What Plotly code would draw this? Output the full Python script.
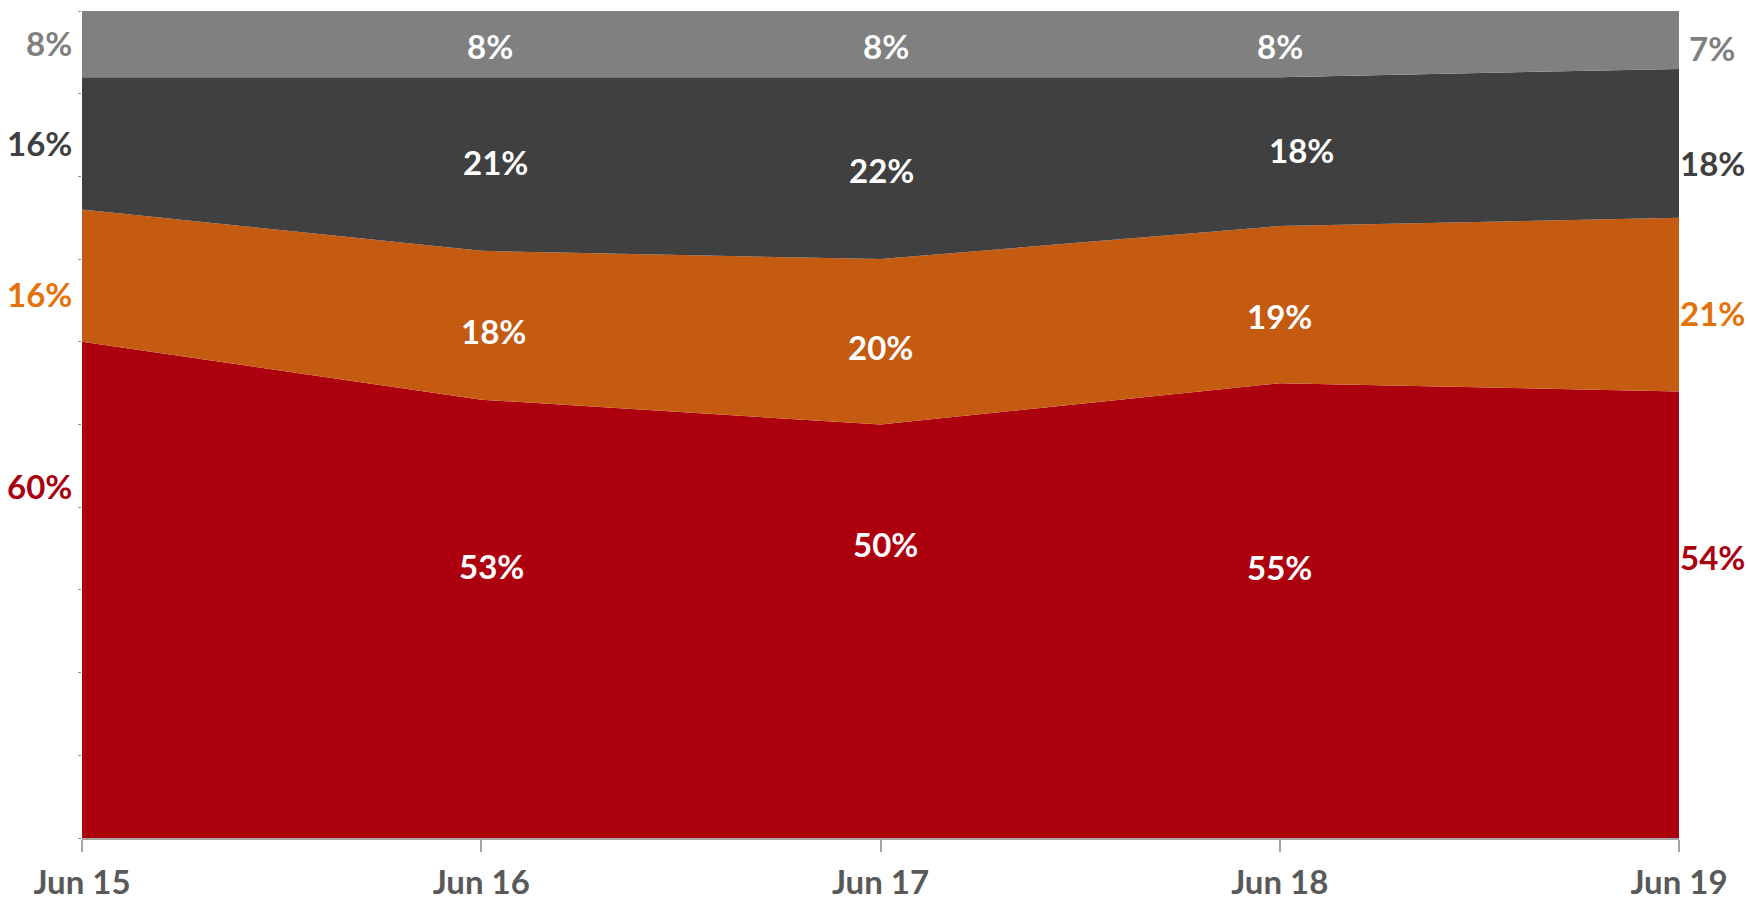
import plotly.graph_objects as go

categories = ["Jun 15", "Jun 16", "Jun 17", "Jun 18", "Jun 19"]
red_vals = [60, 53, 50, 55, 54]
orange_vals = [16, 18, 20, 19, 21]
dark_vals = [16, 21, 22, 18, 18]
grey_vals = [8, 8, 8, 8, 7]

series = [
    ("red", red_vals, "#AD000E", "#A8000F"),
    ("orange", orange_vals, "#C55A11", "#E3720A"),
    ("dark", dark_vals, "#404040", "#404040"),
    ("grey", grey_vals, "#808080", "#808080"),
]

# label placement: fraction of the band height (layout only)
label_frac = {
    "red": [0.71, 0.62, 0.71, 0.595, 0.63],
    "orange": [0.36, 0.46, 0.47, 0.43, 0.45],
    "dark": [0.5, 0.51, 0.49, 0.51, 0.37],
    "grey": [0.52, 0.47, 0.47, 0.47, 0.36],
}
# horizontal pixel offsets of labels (layout only)
label_dx = {
    "red": [-8, 10, 5, 0, 33],
    "orange": [-8, 12, 0, 0, 33],
    "dark": [-8, 14, 1, 22, 33],
    "grey": [-8, 9, 5, 0, 33],
}

FONT = "Lato"
FS = 33

fig = go.Figure()
for name, vals, fill, _ in series:
    fig.add_trace(go.Scatter(
        x=categories, y=vals, name=name, mode="lines",
        stackgroup="one", line=dict(width=0, color=fill),
        fillcolor=fill, hoverinfo="skip", showlegend=False,
    ))

annotations = []
base = [0] * len(categories)
n = len(categories)
for name, vals, fill, txtcol in series:
    for i, v in enumerate(vals):
        y = base[i] + v * label_frac[name][i]
        ann = dict(x=categories[i], y=y, xref="x", yref="y", text=f"{v}%",
                   showarrow=False, xshift=label_dx[name][i],
                   font=dict(family=FONT, size=FS, weight="bold"))
        if i == 0:
            ann.update(xanchor="right")
            ann["font"]["color"] = txtcol
        elif i == n - 1:
            ann.update(xanchor="center")
            ann["font"]["color"] = txtcol
        else:
            ann.update(xanchor="center")
            ann["font"]["color"] = "white"
        annotations.append(ann)
    base = [b + v for b, v in zip(base, vals)]

fig.update_layout(
    width=1748, height=904,
    margin=dict(l=82, r=69, t=11, b=66, autoexpand=False),
    paper_bgcolor="white", plot_bgcolor="white",
    annotations=annotations,
    font=dict(family=FONT),
)
fig.update_xaxes(
    type="category", range=[0, 4], showgrid=False, zeroline=False,
    showline=True, linecolor="#A6A6A6", linewidth=1.5,
    ticks="outside", ticklen=12, tickcolor="#A6A6A6", tickwidth=1.5,
    tickfont=dict(family=FONT, size=FS, color="#595959", weight="bold"),
    ticklabelstandoff=3, automargin=False,
)
fig.update_yaxes(
    range=[0, 100], dtick=10, showgrid=False, zeroline=False,
    showline=False, ticks="outside", ticklen=3, tickcolor="#8C8C8C",
    showticklabels=False, automargin=False,
)

fig.write_html("out.html", config={"displayModeBar": False},
               post_script="document.body.style.margin='0';document.body.style.overflow='hidden';")
